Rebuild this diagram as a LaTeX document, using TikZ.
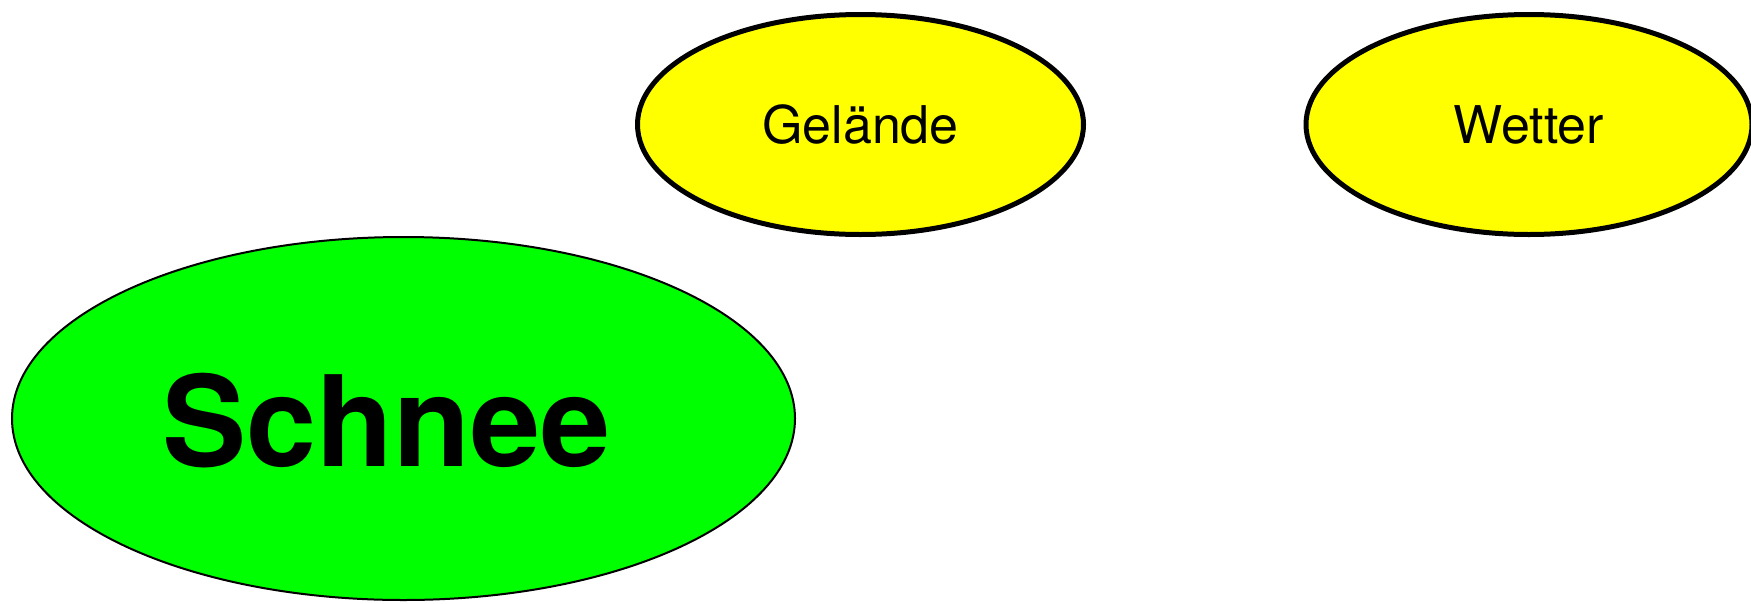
\documentclass[tikz,border=0pt]{standalone}
\usepackage{fontspec}
\setmainfont{TeX Gyre Heros}
\usetikzlibrary{shapes.geometric}
\definecolor{topicyellow}{RGB}{255,255,0}
\definecolor{coregreen}{RGB}{0,255,0}
\begin{document}
\begin{tikzpicture}[x=1pt,y=-1pt,
  topic/.style={ellipse, draw=black, fill=topicyellow, line width=5pt,
    minimum width=446pt, minimum height=220pt, inner sep=0pt,
    font=\fontsize{52}{60}\selectfont},
  core/.style={ellipse, draw=black, fill=coregreen, line width=2pt,
    minimum width=783pt, minimum height=363pt, inner sep=0pt},
  coretext/.style={inner sep=0pt, font=\fontsize{126}{140}\selectfont\bfseries}]
  \useasboundingbox (0,0) rectangle (1751,603);
  % central topic
  \node[core] (schnee) at (403.5,418.5) {};
  \node[coretext] (schneelabel) at ([xshift=-17pt,yshift=-2pt]schnee.center) {Schnee};
  % related topics
  \node[topic] (gelaende) at (860.5,124.5) {Gelände};
  \node[topic] (wetter) at (1529,124.5) {Wetter};
\end{tikzpicture}
\end{document}
